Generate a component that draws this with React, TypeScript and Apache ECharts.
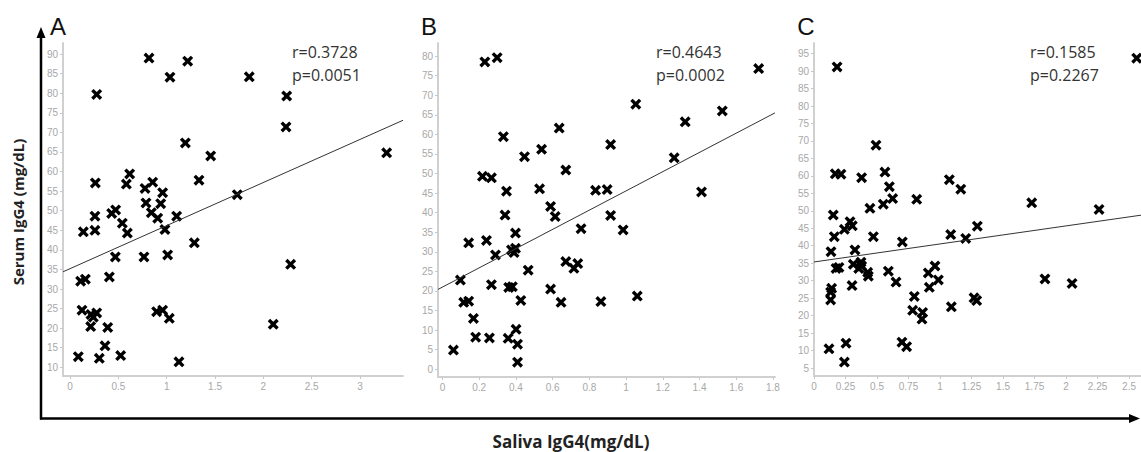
import { useEffect, useRef } from "react";
import * as echarts from "echarts";

// Panel A
const salivaA = [0.276, 0.817, 1.217, 1.034, 1.193, 1.455, 1.334, 0.262, 0.617, 0.583, 0.776, 0.855, 0.958, 0.786, 0.938, 0.841, 0.431, 0.472, 0.258, 1.103, 0.907, 1.73, 0.138, 0.258, 0.541, 0.593, 0.982, 1.286, 0.469, 0.765, 1.01, 0.407, 0.11, 0.159, 0.124, 0.217, 0.276, 0.241, 0.214, 0.39, 0.896, 0.958, 1.027, 0.362, 0.086, 0.303, 0.524, 1.127, 1.854, 2.241, 2.234, 3.275, 2.282, 2.102];
const serumA = [79.7, 89.0, 88.2, 84.1, 67.3, 64.0, 57.8, 57.1, 59.4, 56.8, 55.7, 57.3, 54.6, 52.0, 51.8, 49.5, 49.3, 50.2, 48.6, 48.6, 48.1, 54.1, 44.6, 45.0, 46.8, 44.3, 45.2, 41.8, 38.2, 38.2, 38.7, 33.1, 32.0, 32.5, 24.6, 23.5, 23.9, 22.8, 20.4, 20.2, 24.2, 24.6, 22.5, 15.5, 12.7, 12.3, 13.0, 11.4, 84.2, 79.3, 71.4, 64.8, 36.3, 21.0];
const fitA = [[-0.0724, 34.4], [3.444, 73.1]];
const statsA = ["r=0.3728", "p=0.0051"];
const xTicksA = [0, 0.5, 1, 1.5, 2, 2.5, 3];
const yTicksA = [10, 15, 20, 25, 30, 35, 40, 45, 50, 55, 60, 65, 70, 75, 80, 85, 90];

// Panel B
const salivaB = [0.231, 0.298, 0.332, 0.636, 0.447, 0.54, 0.672, 0.218, 0.267, 0.349, 0.529, 0.589, 0.341, 0.614, 0.755, 0.143, 0.24, 0.398, 0.289, 0.376, 0.398, 0.39, 0.098, 0.467, 0.672, 0.716, 0.737, 0.267, 0.361, 0.381, 0.589, 0.116, 0.143, 0.427, 0.646, 0.169, 0.401, 0.181, 0.256, 0.358, 0.409, 0.06, 0.409, 1.722, 1.053, 1.524, 1.322, 0.916, 1.262, 0.834, 0.897, 1.411, 0.916, 0.984, 0.863, 1.061];
const serumB = [78.5, 79.6, 59.4, 61.6, 54.3, 56.2, 50.9, 49.3, 48.9, 45.5, 46.1, 41.6, 39.4, 39.0, 35.9, 32.3, 32.9, 34.8, 29.2, 30.5, 30.9, 29.8, 22.8, 25.3, 27.5, 25.8, 27.0, 21.6, 20.9, 21.1, 20.5, 17.1, 17.4, 17.6, 17.1, 13.0, 10.2, 8.2, 8.0, 7.9, 6.4, 4.9, 1.8, 76.8, 67.7, 66.0, 63.2, 57.4, 54.0, 45.7, 45.9, 45.3, 39.3, 35.6, 17.3, 18.7];
const fitB = [[-0.024, 20.4], [1.811, 65.5]];
const statsB = ["r=0.4643", "p=0.0002"];
const xTicksB = [0, 0.2, 0.4, 0.6, 0.8, 1, 1.2, 1.4, 1.6, 1.8];
const yTicksB = [0, 5, 10, 15, 20, 25, 30, 35, 40, 45, 50, 55, 60, 65, 70, 75, 80];

// Panel C
const salivaC = [0.183, 0.492, 0.169, 0.214, 0.378, 0.563, 0.598, 0.624, 0.55, 0.444, 0.815, 1.074, 1.165, 0.153, 0.286, 0.304, 0.241, 0.161, 0.471, 0.701, 1.085, 0.135, 0.325, 0.312, 0.373, 0.355, 0.378, 0.175, 0.198, 0.426, 0.431, 0.59, 0.651, 0.907, 0.96, 0.987, 0.915, 0.302, 0.14, 0.132, 0.132, 0.796, 0.783, 0.862, 0.857, 1.09, 0.119, 0.254, 0.698, 0.735, 0.241, 2.561, 1.728, 2.262, 1.204, 1.296, 1.27, 1.291, 1.833, 2.048];
const serumC = [91.2, 68.8, 60.6, 60.5, 59.5, 61.1, 56.9, 53.5, 51.9, 50.7, 53.3, 58.9, 56.2, 48.8, 46.9, 45.7, 44.7, 42.6, 42.6, 41.1, 43.2, 38.3, 38.8, 34.7, 35.3, 33.5, 34.2, 33.5, 33.8, 32.4, 31.3, 32.7, 29.6, 32.2, 34.2, 30.2, 28.1, 28.6, 27.8, 26.7, 24.5, 25.5, 21.5, 20.9, 19.0, 22.5, 10.5, 12.1, 12.4, 11.1, 6.7, 93.7, 52.3, 50.4, 42.1, 45.6, 25.1, 24.3, 30.5, 29.2];
const fitC = [[0, 35.35], [2.595, 48.75]];
const statsC = ["r=0.1585", "p=0.2267"];
const xTicksC = [0, 0.25, 0.5, 0.75, 1, 1.25, 1.5, 1.75, 2, 2.25, 2.5];
const yTicksC = [5, 10, 15, 20, 25, 30, 35, 40, 45, 50, 55, 60, 65, 70, 75, 80, 85, 90, 95];

// Bold "x" marker
const CROSS = "path://M0,2.6 L2.6,0 L6,3.4 L9.4,0 L12,2.6 L8.6,6 L12,9.4 L9.4,12 L6,8.6 L2.6,12 L0,9.4 L3.4,6 Z";

const panels = [
  { letter: "A", lx: 58, x: salivaA, y: serumA, fit: fitA, stats: statsA, sx: 292, xTicks: xTicksA, yTicks: yTicksA,
    grid: { left: 63, top: 43, width: 340, height: 333 }, xr: [-0.0724, 3.444], yr: [7.78, 92.84] },
  { letter: "B", lx: 429, x: salivaB, y: serumB, fit: fitB, stats: statsB, sx: 656, xTicks: xTicksB, yTicks: yTicksB,
    grid: { left: 438, top: 43, width: 337, height: 334 }, xr: [-0.024, 1.811], yr: [-1.97, 83.34] },
  { letter: "C", lx: 806, x: salivaC, y: serumC, fit: fitC, stats: statsC, sx: 1030, xTicks: xTicksC, yTicks: yTicksC,
    grid: { left: 814, top: 43, width: 327, height: 333 }, xr: [0, 2.595], yr: [2.71, 98.04] },
];

const tickLabel = { color: "#a8a8a8", fontSize: 10, fontFamily: "Liberation Sans" };
const axisLine = { lineStyle: { color: "#d0d0d0", width: 2 } };

export default function App() {
  const ref = useRef<HTMLDivElement>(null);

  useEffect(() => {
    const chart = echarts.init(ref.current!, null, { renderer: "svg" });

    const grid = panels.map((p) => p.grid);
    const xAxis = panels.map((p, i) => ({
      type: "value", gridIndex: i, min: p.xr[0], max: p.xr[1],
      axisLine: { show: true, onZero: false, ...axisLine },
      axisTick: { show: true, length: 3, customValues: p.xTicks, lineStyle: { color: "#c8c8c8" } },
      axisLabel: { ...tickLabel, margin: 5, customValues: p.xTicks },
      splitLine: { show: false },
    }));
    const yAxis = panels.map((p, i) => ({
      type: "value", gridIndex: i, min: p.yr[0], max: p.yr[1],
      axisLine: { show: true, onZero: false, ...axisLine },
      axisTick: { show: true, length: 3, customValues: p.yTicks, lineStyle: { color: "#c8c8c8" } },
      axisLabel: { ...tickLabel, margin: 5, customValues: p.yTicks },
      splitLine: { show: false },
    }));

    const series: any[] = [];
    panels.forEach((p, i) => {
      series.push({
        type: "scatter", xAxisIndex: i, yAxisIndex: i, clip: false,
        symbol: CROSS, symbolSize: 11,
        itemStyle: { color: "#000", opacity: 1 },
        data: p.x.map((v, k) => [v, p.y[k]]),
      });
      series.push({
        type: "line", xAxisIndex: i, yAxisIndex: i, symbol: "none",
        lineStyle: { color: "#333", width: 1 },
        data: p.fit,
      });
    });

    const graphic: any[] = [];
    panels.forEach((p) => {
      graphic.push({
        type: "text", x: p.lx, y: 26,
        style: { text: p.letter, fontSize: 24, fontFamily: "Liberation Sans", fill: "#111", align: "center", verticalAlign: "middle" },
      });
      graphic.push({
        type: "text", x: p.sx, y: 52,
        style: { text: p.stats[0], fontSize: 16, fontFamily: "Open Sans", fill: "#333", align: "left", verticalAlign: "middle" },
      });
      graphic.push({
        type: "text", x: p.sx, y: 75,
        style: { text: p.stats[1], fontSize: 16, fontFamily: "Open Sans", fill: "#333", align: "left", verticalAlign: "middle" },
      });
    });
    // Outer axes with arrowheads
    graphic.push(
      { type: "line", shape: { x1: 41, y1: 36, x2: 41, y2: 419.5 }, style: { stroke: "#000", lineWidth: 2.5 } },
      { type: "polygon", shape: { points: [[41, 27], [36.5, 38], [45.5, 38]] }, style: { fill: "#000" } },
      { type: "line", shape: { x1: 40, y1: 418.5, x2: 1131, y2: 418.5 }, style: { stroke: "#000", lineWidth: 2.5 } },
      { type: "polygon", shape: { points: [[1140, 418.5], [1129, 414], [1129, 423]] }, style: { fill: "#000" } },
      {
        type: "text", x: 18, y: 212, rotation: Math.PI / 2,
        style: { text: "Serum IgG4 (mg/dL)", fontSize: 15, fontWeight: "bold", fontFamily: "Open Sans", fill: "#222", align: "center", verticalAlign: "middle" },
      },
      {
        type: "text", x: 571, y: 441,
        style: { text: "Saliva IgG4(mg/dL)", fontSize: 17, fontWeight: "bold", fontFamily: "Open Sans", fill: "#222", align: "center", verticalAlign: "middle" },
      }
    );

    chart.setOption({
      animation: false,
      backgroundColor: "#fff",
      grid, xAxis, yAxis, series, graphic,
    });
    return () => chart.dispose();
  }, []);

  return <div ref={ref} style={{ position: "fixed", left: 0, top: 0, width: 1141, height: 452, background: "#fff" }} />;
}
